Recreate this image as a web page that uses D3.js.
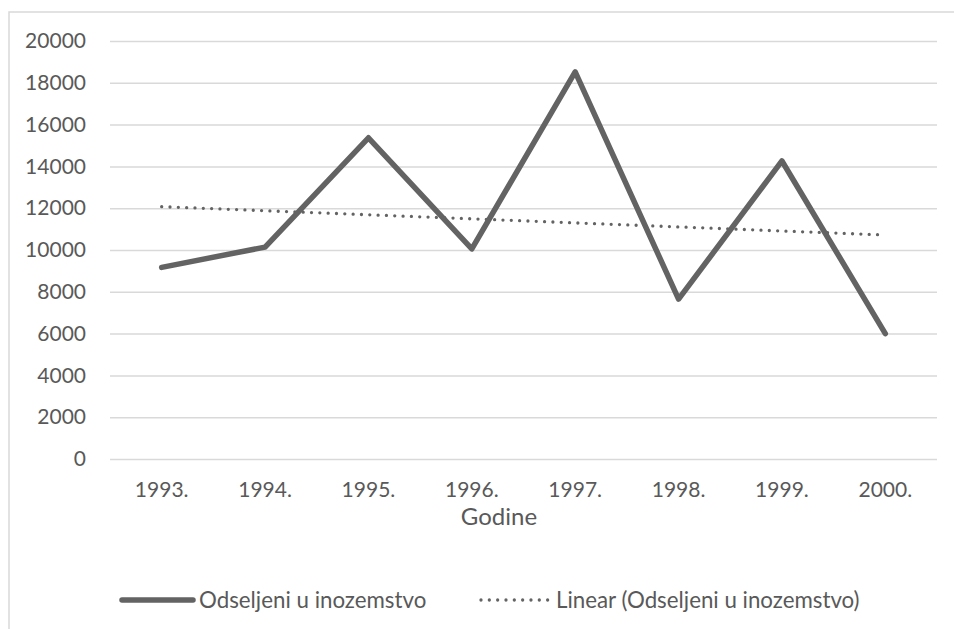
<!DOCTYPE html>
<html>
<head>
<meta charset="utf-8">
<script src="https://cdn.jsdelivr.net/npm/d3@7"></script>
<style>
  body { margin: 0; background: #fff; }
  text { font-family: Lato, "Open Sans", sans-serif; fill: #595959; }
</style>
</head>
<body>
<div id="vis"></div>
<script>
const visWidth = 954;
const visHeight = 629;

const margin = {
  top: 41,
  bottom: 170,
  left: 110,
  right: 17
};

const width = visWidth - margin.left - margin.right;
const height = visHeight - margin.top - margin.bottom;

// data
const years = ['1993.', '1994.', '1995.', '1996.', '1997.', '1998.', '1999.', '2000.'];
const emigrants = [9170, 10140, 15370, 10050, 18520, 7650, 14260, 6000];
const yTicks = [0, 2000, 4000, 6000, 8000, 10000, 12000, 14000, 16000, 18000, 20000];

const seriesName = 'Odseljeni u inozemstvo';
const trendName = 'Linear (Odseljeni u inozemstvo)';
const xTitle = 'Godine';

const lineColor = '#636363';
const gridColor = '#d9d9d9';
const fontSize = 21;


function linearTrend(values) {
  const mx = d3.mean(values, (d, i) => i);
  const my = d3.mean(values);
  const sxy = d3.sum(values, (d, i) => (i - mx) * (d - my));
  const sxx = d3.sum(values, (d, i) => (i - mx) * (i - mx));
  const slope = sxy / sxx;
  return values.map((d, i) => my + slope * (i - mx));
}


const root = d3.select('#vis').append('svg')
    .attr('width', visWidth)
    .attr('height', visHeight);

// chart area border (only top and left show in the crop)
root.append('path')
    .attr('d', `M9,${visHeight} V12 H${visWidth}`)
    .attr('fill', 'none')
    .attr('stroke', gridColor)
    .attr('stroke-width', 1.5);

const svg = root.append('g')
    .attr('transform', `translate(${margin.left}, ${margin.top})`);

const x = d3.scaleBand()
    .domain(years)
    .range([0, width]);

const y = d3.scaleLinear()
    .domain([0, 20000])
    .range([height, 0]);

const cx = d => x(d) + x.bandwidth() / 2;

// gridlines + y labels
const yAxis = svg.append('g')
    .call(d3.axisLeft(y).tickValues(yTicks).tickSize(-width).tickPadding(24).tickFormat(d3.format('d')));
yAxis.select('.domain').remove();
yAxis.selectAll('line')
    .attr('stroke', gridColor)
    .attr('stroke-width', 1.5);
yAxis.selectAll('text')
    .attr('font-size', fontSize)
    .attr('font-family', null)
    .attr('fill', null);

// x labels
const xAxis = svg.append('g')
    .attr('transform', `translate(0, ${height})`)
    .call(d3.axisBottom(x).tickSize(0).tickPadding(23));
xAxis.select('.domain').remove();
xAxis.selectAll('text')
    .attr('font-size', fontSize)
    .attr('font-family', null)
    .attr('fill', null);

root.append('text')
    .attr('x', 499)
    .attr('y', margin.top + height + 66)
    .attr('text-anchor', 'middle')
    .attr('font-size', 24)
    .text(xTitle);

const line = d3.line()
    .x((d, i) => cx(years[i]))
    .y(d => y(d));

// trend line
svg.append('path')
    .datum(linearTrend(emigrants))
    .attr('d', line)
    .attr('fill', 'none')
    .attr('stroke', lineColor)
    .attr('stroke-width', 3.3)
    .attr('stroke-linecap', 'round')
    .attr('stroke-dasharray', '0 8.33');

// series
svg.append('path')
    .datum(emigrants)
    .attr('d', line)
    .attr('fill', 'none')
    .attr('stroke', lineColor)
    .attr('stroke-width', 5.5)
    .attr('stroke-linejoin', 'round')
    .attr('stroke-linecap', 'round');

// legend
const legend = root.append('g')
    .attr('transform', 'translate(0, 600)');

const items = [
  {name: seriesName, x0: 122, x1: 193, dash: null, w: 5.5},
  {name: trendName, x0: 481, x1: 550, dash: '0 8.33', w: 3.3}
];

const item = legend.selectAll('g')
  .data(items)
  .join('g');

item.append('line')
    .attr('x1', d => d.x0)
    .attr('x2', d => d.x1)
    .attr('stroke', lineColor)
    .attr('stroke-width', d => d.w)
    .attr('stroke-linecap', 'round')
    .attr('stroke-dasharray', d => d.dash);

item.append('text')
    .attr('x', d => d.x1 + 6)
    .attr('dy', '0.35em')
    .attr('font-size', 22.3)
    .text(d => d.name);
</script>
</body>
</html>
